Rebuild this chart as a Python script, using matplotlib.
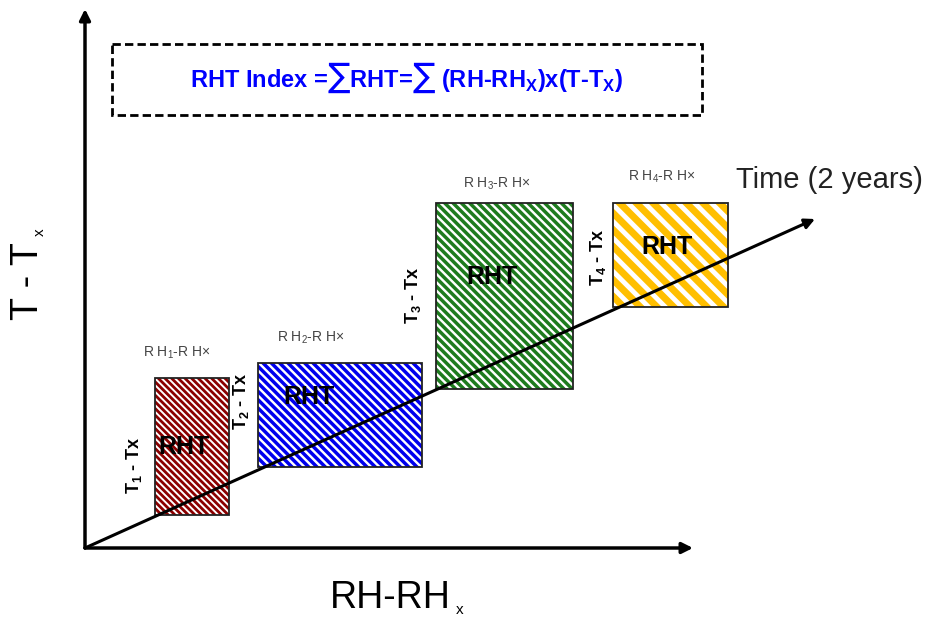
import matplotlib
matplotlib.use("Agg")
import matplotlib.pyplot as plt
from matplotlib.patches import Rectangle

# canvas is laid out in pixel-like units, y grows downwards
W, H = 933, 617

# RHT blocks: left, top, width, height
rect_x = [155, 258, 436, 613]
rect_top = [378, 363, 203, 203]
rect_w = [74, 164, 137, 115]
rect_h = [137, 104, 186, 104]
rect_colors = ["#8b0000", "#0000ee", "#1e7b1e", "#ffbf00"]
rect_hatch = ["\\" * 5, "\\" * 4, "\\" * 4, "\\" * 2]
rect_hatch_lw = [2.0, 2.5, 2.5, 5.0]

# labels
rh_labels = [r"R H$_{\mathregular{1}}$-R H×", r"R H$_{\mathregular{2}}$-R H×",
             r"R H$_{\mathregular{3}}$-R H×", r"R H$_{\mathregular{4}}$-R H×"]
rh_pos = [(177, 353), (311, 338), (497, 184), (662, 177)]
t_labels = [r"T$_{\mathregular{1}}$ - Tx", r"T$_{\mathregular{2}}$ - Tx",
            r"T$_{\mathregular{3}}$ - Tx", r"T$_{\mathregular{4}}$ - Tx"]
t_pos = [(134, 465), (241, 401), (413, 295), (598, 257)]
rht_pos = [(184, 447), (309, 397), (492, 277), (667, 247)]

origin = (85, 548)
x_tip = (693, 548)
y_tip = (85, 9)
time_tip = (815, 219)

fig = plt.figure(figsize=(9.33, 6.17), dpi=100)
ax = fig.add_axes([0, 0, 1, 1])
ax.set_xlim(0, W)
ax.set_ylim(H, 0)
ax.axis("off")

narrow = ["Liberation Sans Narrow", "Liberation Sans", "DejaVu Sans"]
sans = ["Liberation Sans", "DejaVu Sans"]

# formula box
ax.add_patch(Rectangle((112, 44), 590, 71, fill=False, ec="black", lw=2,
                       ls=(0, (3, 1.5))))
ax.text(407, 78, r"RHT Index =∑RHT=∑ (RH-RH$_{\mathregular{X}}$)x(T-T$_{\mathregular{X}}$)",
        color="#0000ff", fontsize=17, fontweight="bold", family=narrow,
        ha="center", va="center")

# hatched blocks
for i in range(len(rect_x)):
    p = Rectangle((rect_x[i], rect_top[i]), rect_w[i], rect_h[i], facecolor="white",
                  edgecolor=rect_colors[i], hatch=rect_hatch[i], lw=0, zorder=2)
    p.set_hatch_linewidth(rect_hatch_lw[i])
    ax.add_patch(p)
    ax.add_patch(Rectangle((rect_x[i], rect_top[i]), rect_w[i], rect_h[i], fill=False,
                           ec="#222222", lw=1.3, zorder=3))
    ax.text(*rht_pos[i], "RHT", fontsize=18, fontweight="bold", family=sans,
            ha="center", va="center", zorder=5)
    ax.text(*rh_pos[i], rh_labels[i], fontsize=10, color="#444444", family=sans,
            ha="center", va="center")
    ax.text(*t_pos[i], t_labels[i], fontsize=13, fontweight="bold", family=sans,
            rotation=90, ha="center", va="center")

# axes arrows
arrow = dict(arrowstyle="-|>", lw=2.5, color="black", mutation_scale=16, shrinkA=0, shrinkB=0)
ax.annotate("", xy=x_tip, xytext=origin, arrowprops=arrow, zorder=4)
ax.annotate("", xy=y_tip, xytext=origin, arrowprops=arrow, zorder=4)
ax.annotate("", xy=time_tip, xytext=origin,
            arrowprops=dict(arrowstyle="-|>", lw=2.2, color="black", mutation_scale=15,
                            shrinkA=0, shrinkB=0), zorder=4)

ax.text(829, 180, "Time (2 years)", fontsize=21, color="#222222", family=sans,
        ha="center", va="center")

# axis titles, subscripts drawn small as in the original
ax.text(330, 608, "RH-RH", fontsize=27, family=sans, ha="left", va="baseline")
ax.text(456, 614, "x", fontsize=11, family=sans, ha="left", va="baseline")
ax.text(28, 320, "T - T", fontsize=27, family=sans, rotation=90,
        ha="center", va="bottom")
ax.text(40, 232, "x", fontsize=11, family=sans, rotation=90,
        ha="center", va="center")

fig.savefig("out.png", dpi=100)
